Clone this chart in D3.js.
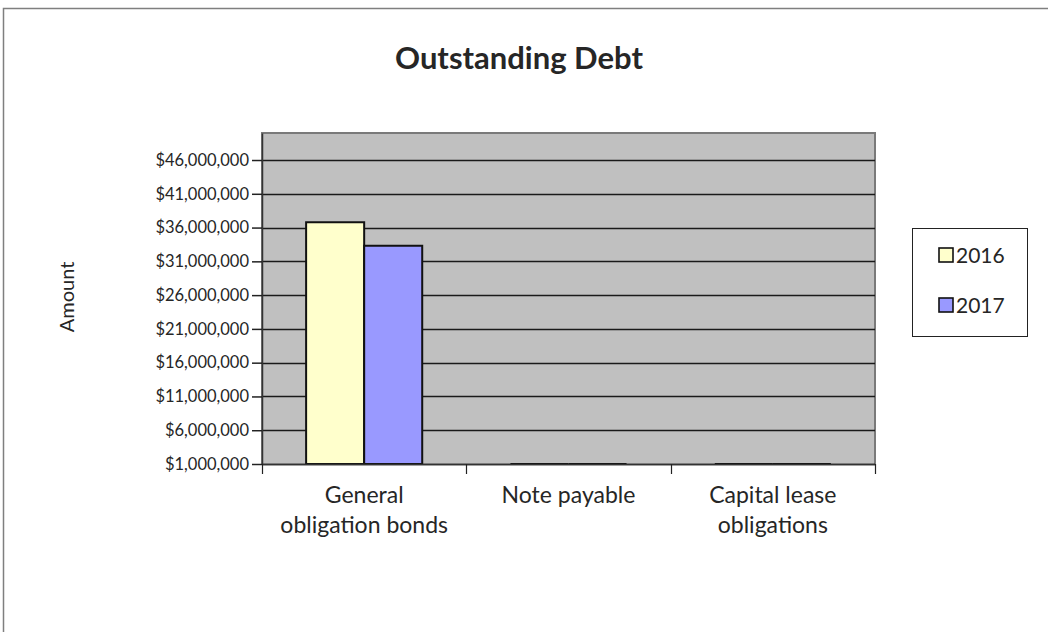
<!DOCTYPE html>
<html>
<head>
<meta charset="utf-8">
<script src="https://cdn.jsdelivr.net/npm/d3@7/dist/d3.min.js"></script>
<style>
  html, body { margin: 0; padding: 0; background: #fff; }
  svg { display: block; }
  text { font-family: Lato, "Open Sans", sans-serif; fill: #262626; }
</style>
</head>
<body>
<svg id="chart" width="1048" height="632"></svg>
<script>
// Outstanding debt by category, two fiscal years
const categories = ["General obligation bonds", "Note payable", "Capital lease obligations"];
const categoryLines = [["General", "obligation bonds"], ["Note payable"], ["Capital lease", "obligations"]];
const seriesNames = ["2016", "2017"];
const values2016 = [36800000, 0, 0];
const values2017 = [33300000, 0, 0];
const yTicks = [1000000, 6000000, 11000000, 16000000, 21000000, 26000000, 31000000, 36000000, 41000000, 46000000];
const colors = ["#ffffcc", "#9999ff"];

const svg = d3.select("#chart");

// outer chart frame (runs off the right and bottom edges)
svg.append("rect")
  .attr("x", 3.5).attr("y", 8.5).attr("width", 1100).attr("height", 700)
  .attr("fill", "#fff").attr("stroke", "#7f7f7f").attr("stroke-width", 1.5);

const plot = { left: 262, top: 133, right: 875, bottom: 464 };

const x0 = d3.scaleBand().domain(categories).range([plot.left, plot.right]).paddingInner(0).paddingOuter(0);
const x1 = d3.scaleBand().domain(seriesNames).range([0, x0.bandwidth()]).paddingInner(0).paddingOuter(0.76);
const y = d3.scaleLinear().domain([1000000, 50000000]).range([plot.bottom, plot.top]).clamp(true);

// plot area
svg.append("rect")
  .attr("x", plot.left).attr("y", plot.top)
  .attr("width", plot.right - plot.left).attr("height", plot.bottom - plot.top)
  .attr("fill", "#c0c0c0");
svg.append("path")
  .attr("d", `M${plot.left},${plot.bottom}V${plot.top}H${plot.right}V${plot.bottom}`)
  .attr("fill", "none").attr("stroke", "#7a7a7a").attr("stroke-width", 2);

// gridlines
svg.append("g").selectAll("line").data(yTicks).join("line")
  .attr("x1", plot.left).attr("x2", plot.right)
  .attr("y1", d => Math.round(y(d)) + 0.5).attr("y2", d => Math.round(y(d)) + 0.5)
  .attr("stroke", "#1a1a1a").attr("stroke-width", 1.6);

// y axis
const yAxis = d3.axisLeft(y).tickValues(yTicks)
  .tickFormat(d => "$" + d3.format(",")(d)).tickSize(10).tickSizeOuter(0).tickPadding(3);
const gy = svg.append("g").attr("transform", `translate(${plot.left},0)`).call(yAxis);
gy.select(".domain").attr("stroke", "#333").attr("stroke-width", 1.5);
gy.selectAll(".tick line").attr("stroke", "#222").attr("stroke-width", 1.5);
gy.selectAll(".tick text").attr("font-size", 16.5).attr("fill", "#262626")
  .attr("font-family", "Lato, sans-serif");

// bars (drawn as paths so zero-height bars still show their outline)
const rows = categories.map((c, i) => ({ cat: c, vals: [values2016[i], values2017[i]] }));
const groups = svg.append("g").selectAll("g").data(rows).join("g")
  .attr("transform", d => `translate(${x0(d.cat)},0)`);
groups.selectAll("path").data(d => d.vals.map((v, j) => ({ v, s: seriesNames[j], j }))).join("path")
  .attr("d", d => {
    const xa = x1(d.s), xb = xa + x1.bandwidth(), y0 = y(1000000), yv = y(d.v);
    return `M${xa},${y0}V${yv}H${xb}V${y0}Z`;
  })
  .attr("fill", d => colors[d.j]).attr("stroke", "#111").attr("stroke-width", 2);

// x axis
svg.append("line").attr("x1", plot.left).attr("x2", plot.right)
  .attr("y1", plot.bottom + 0.5).attr("y2", plot.bottom + 0.5)
  .attr("stroke", "#333").attr("stroke-width", 1.5);
const xTickPos = [plot.left].concat(categories.map(c => x0(c) + x0.bandwidth()));
svg.append("g").selectAll("line").data(xTickPos).join("line")
  .attr("x1", d => Math.round(d) + 0.5).attr("x2", d => Math.round(d) + 0.5)
  .attr("y1", plot.bottom).attr("y2", plot.bottom + 10)
  .attr("stroke", "#222").attr("stroke-width", 1.2);
const xl = svg.append("g").selectAll("text").data(categories).join("text")
  .attr("x", d => x0(d) + x0.bandwidth() / 2)
  .attr("y", plot.bottom + 39)
  .attr("text-anchor", "middle").attr("font-size", 23);
xl.selectAll("tspan").data((d, i) => categoryLines[i]).join("tspan")
  .attr("x", function () { return d3.select(this.parentNode).attr("x"); })
  .attr("dy", (d, k) => k === 0 ? 0 : 30)
  .text(d => d);

// y axis title
svg.append("text")
  .attr("transform", "translate(74,297) rotate(-90)")
  .attr("text-anchor", "middle").attr("font-size", 20).text("Amount");

// chart title
svg.append("text")
  .attr("x", 519).attr("y", 69)
  .attr("text-anchor", "middle").attr("font-size", 31).attr("font-weight", "bold")
  .text("Outstanding Debt");

// legend
const lg = svg.append("g");
lg.append("rect").attr("x", 912.5).attr("y", 228.5).attr("width", 115).attr("height", 108)
  .attr("fill", "#fff").attr("stroke", "#222").attr("stroke-width", 1);
const items = lg.selectAll("g").data(seriesNames).join("g")
  .attr("transform", (d, i) => `translate(939,${248 + i * 50})`);
items.append("rect").attr("width", 14).attr("height", 14)
  .attr("fill", (d, i) => colors[i]).attr("stroke", "#111").attr("stroke-width", 1.6);
items.append("text").attr("x", 17).attr("y", 15).attr("font-size", 21).text(d => d);
</script>
</body>
</html>
